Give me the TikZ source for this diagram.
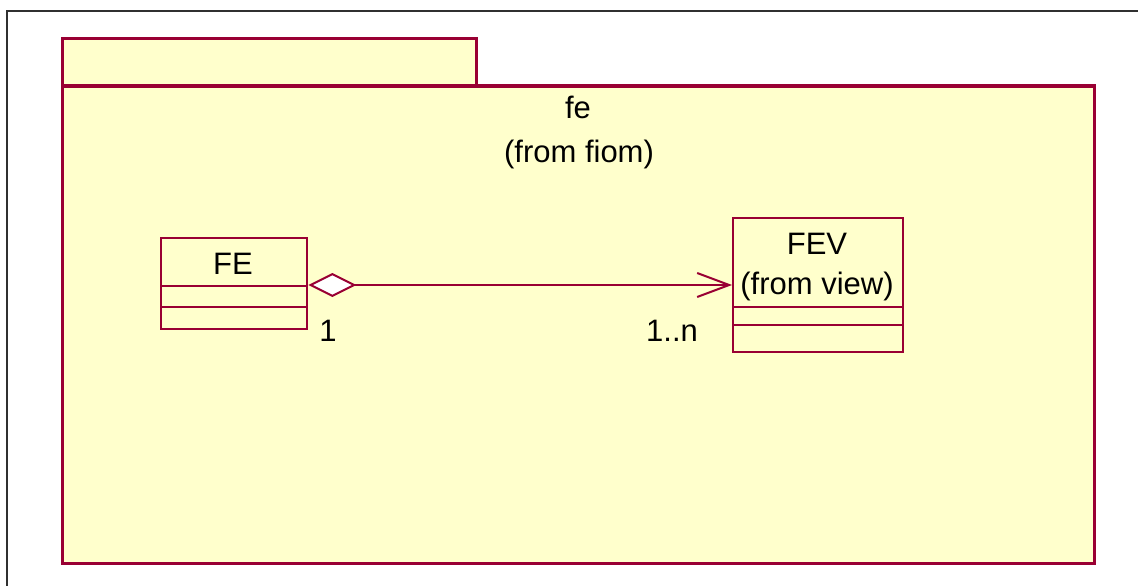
\documentclass[tikz,border=0pt]{standalone}
\usepackage{fontspec}
\setmainfont{Liberation Sans}
\usetikzlibrary{arrows.meta,calc}
\definecolor{umlred}{HTML}{990033}
\definecolor{umlfill}{HTML}{FFFFCC}
\definecolor{framegray}{HTML}{303030}
\begin{document}
\begin{tikzpicture}[x=1pt,y=-1pt,
  frame/.style={draw=framegray,line width=2.2pt},
  pkg/.style={draw=umlred,fill=umlfill,line width=3pt},
  cls/.style={draw=umlred,fill=umlfill,line width=2.4pt,inner sep=0pt,anchor=north west},
  clsline/.style={draw=umlred,line width=2pt},
  lbl/.style={anchor=base,inner sep=0pt,font=\fontsize{31}{37}\selectfont},
  assoc/.style={draw=umlred,line width=2pt,
    {Diamond[fill=white,length=48pt,width=24pt]}-{Straight Barb[length=32pt,width=24pt]}}
]
\useasboundingbox (0,0) rectangle (1138,586);
\fill[white] (0,0) rectangle (1138,586);
\draw[frame] (7,586) -- (7,11) -- (1138,11);
% package
\draw[pkg] (62,86) rectangle (476,39);
\draw[pkg] (62,86) rectangle (1094,563);
\draw[umlfill,line width=2pt] (64,86) -- (474,86);
\draw[umlred,line width=1.8pt] (62,86) -- (476,86);
\node[lbl] (pkgname) at (578,118) {fe};
\node[lbl] (pkgfrom) at (579,162) {(from fiom)};
% FE class
\node[cls,minimum width=146pt,minimum height=91pt] (FE) at (160,237) {};
\draw[clsline] ($(FE.north west)+(0,49)$) -- ($(FE.north east)+(0,49)$);
\draw[clsline] ($(FE.north west)+(0,70)$) -- ($(FE.north east)+(0,70)$);
\node[lbl] (FEname) at (233,274) {FE};
% FEV class
\node[cls,minimum width=170pt,minimum height=134pt] (FEV) at (732,217) {};
\draw[clsline] ($(FEV.north west)+(0,90)$) -- ($(FEV.north east)+(0,90)$);
\draw[clsline] ($(FEV.north west)+(0,108)$) -- ($(FEV.north east)+(0,108)$);
\node[lbl] (FEVname) at (817,254) {FEV};
\node[lbl] (FEVfrom) at (817,294) {(from view)};
% association
\draw[assoc] ($(FE.north east)+(0,48)$) -- ($(FEV.north west)+(0,68)$);
\node[lbl] (m1) at (328,341) {1};
\node[lbl] (m2) at (672,341) {1..n};
\end{tikzpicture}
\end{document}
